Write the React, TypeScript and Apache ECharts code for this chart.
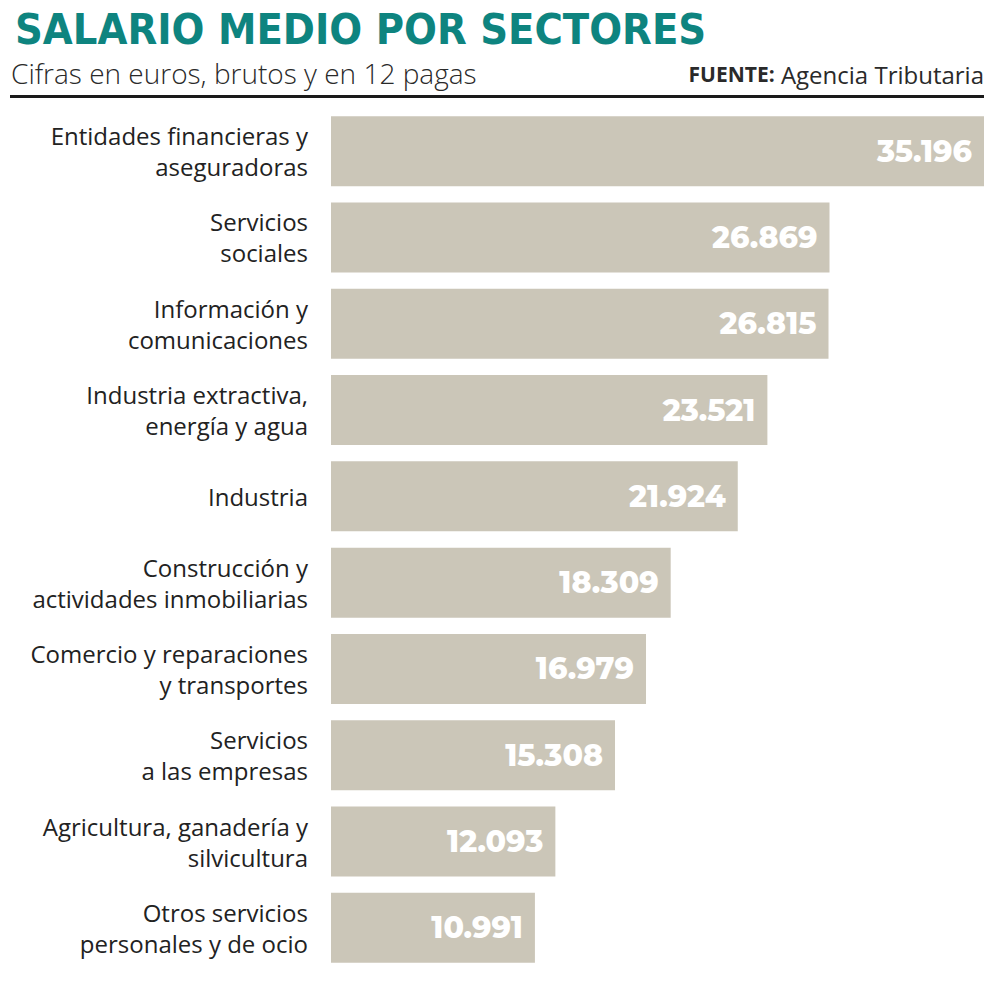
import React, { useEffect, useRef } from "react";
import * as echarts from "echarts";

const categories = [
  "Entidades financieras y\naseguradoras",
  "Servicios\nsociales",
  "Información y\ncomunicaciones",
  "Industria extractiva,\nenergía y agua",
  "Industria",
  "Construcción y\nactividades inmobiliarias",
  "Comercio y reparaciones\ny transportes",
  "Servicios\na las empresas",
  "Agricultura, ganadería y\nsilvicultura",
  "Otros servicios\npersonales y de ocio",
];
const values = [35196, 26869, 26815, 23521, 21924, 18309, 16979, 15308, 12093, 10991];

const titleText = "SALARIO MEDIO POR SECTORES";
const subtitleText = "Cifras en euros, brutos y en 12 pagas";
const sourceLabel = "FUENTE:";
const sourceText = "Agencia Tributaria";

const fmt = (v: number) => String(v).replace(/\B(?=(\d{3})+(?!\d))/g, ".");

export default function App() {
  const ref = useRef<HTMLDivElement>(null);
  useEffect(() => {
    if (!ref.current) return;
    const chart = echarts.init(ref.current, undefined, { renderer: "svg" });
    chart.setOption({
      animation: false,
      backgroundColor: "#ffffff",
      title: {
        text: titleText,
        left: 10,
        top: 2,
        textStyle: {
          fontFamily: "DejaVu Sans Condensed",
          fontWeight: "bold",
          fontSize: 43,
          color: "#0e847f",
        },
      },
      graphic: [
        {
          type: "text",
          left: 11,
          top: 59,
          style: {
            text: subtitleText,
            font: "300 28px 'Open Sans'",
            fill: "#2a2a2a",
          },
        },
        {
          type: "text",
          right: 16,
          top: 62,
          style: {
            rich: {
              b: { fontFamily: "Open Sans", fontWeight: "bold", fontSize: 21, fill: "#2a2a2a" },
              r: { fontFamily: "Open Sans", fontWeight: "normal", fontSize: 24, fill: "#2a2a2a" },
            },
            text: "{b|" + sourceLabel + "}{r| " + sourceText + "}",
          },
        },
        {
          type: "rect",
          shape: { x: 10, y: 95, width: 974, height: 3 },
          style: { fill: "#1a1a1a" },
        },
      ],
      grid: { left: 331, right: 16, top: 108, height: 863, containLabel: false },
      xAxis: {
        type: "value",
        min: 0,
        max: 35196,
        show: false,
      },
      yAxis: {
        type: "category",
        data: categories,
        inverse: true,
        axisLine: { show: false },
        axisTick: { show: false },
        axisLabel: {
          margin: 23,
          fontFamily: "Open Sans",
          fontSize: 24,
          lineHeight: 31,
          color: "#222222",
          align: "right",
        },
      },
      series: [
        {
          type: "bar",
          data: values,
          barWidth: 70,
          itemStyle: { color: "#cbc6b8" },
          label: {
            show: true,
            position: "insideRight",
            distance: 12,
            formatter: (p: any) => fmt(p.value),
            fontFamily: "Montserrat, 'Open Sans', sans-serif",
            fontWeight: 800,
            fontSize: 30,
            color: "#ffffff",
          },
        },
      ],
    });
    return () => chart.dispose();
  }, []);
  return (
    <div
      ref={ref}
      style={{ position: "fixed", left: 0, top: 0, width: 1000, height: 986 }}
    />
  );
}
